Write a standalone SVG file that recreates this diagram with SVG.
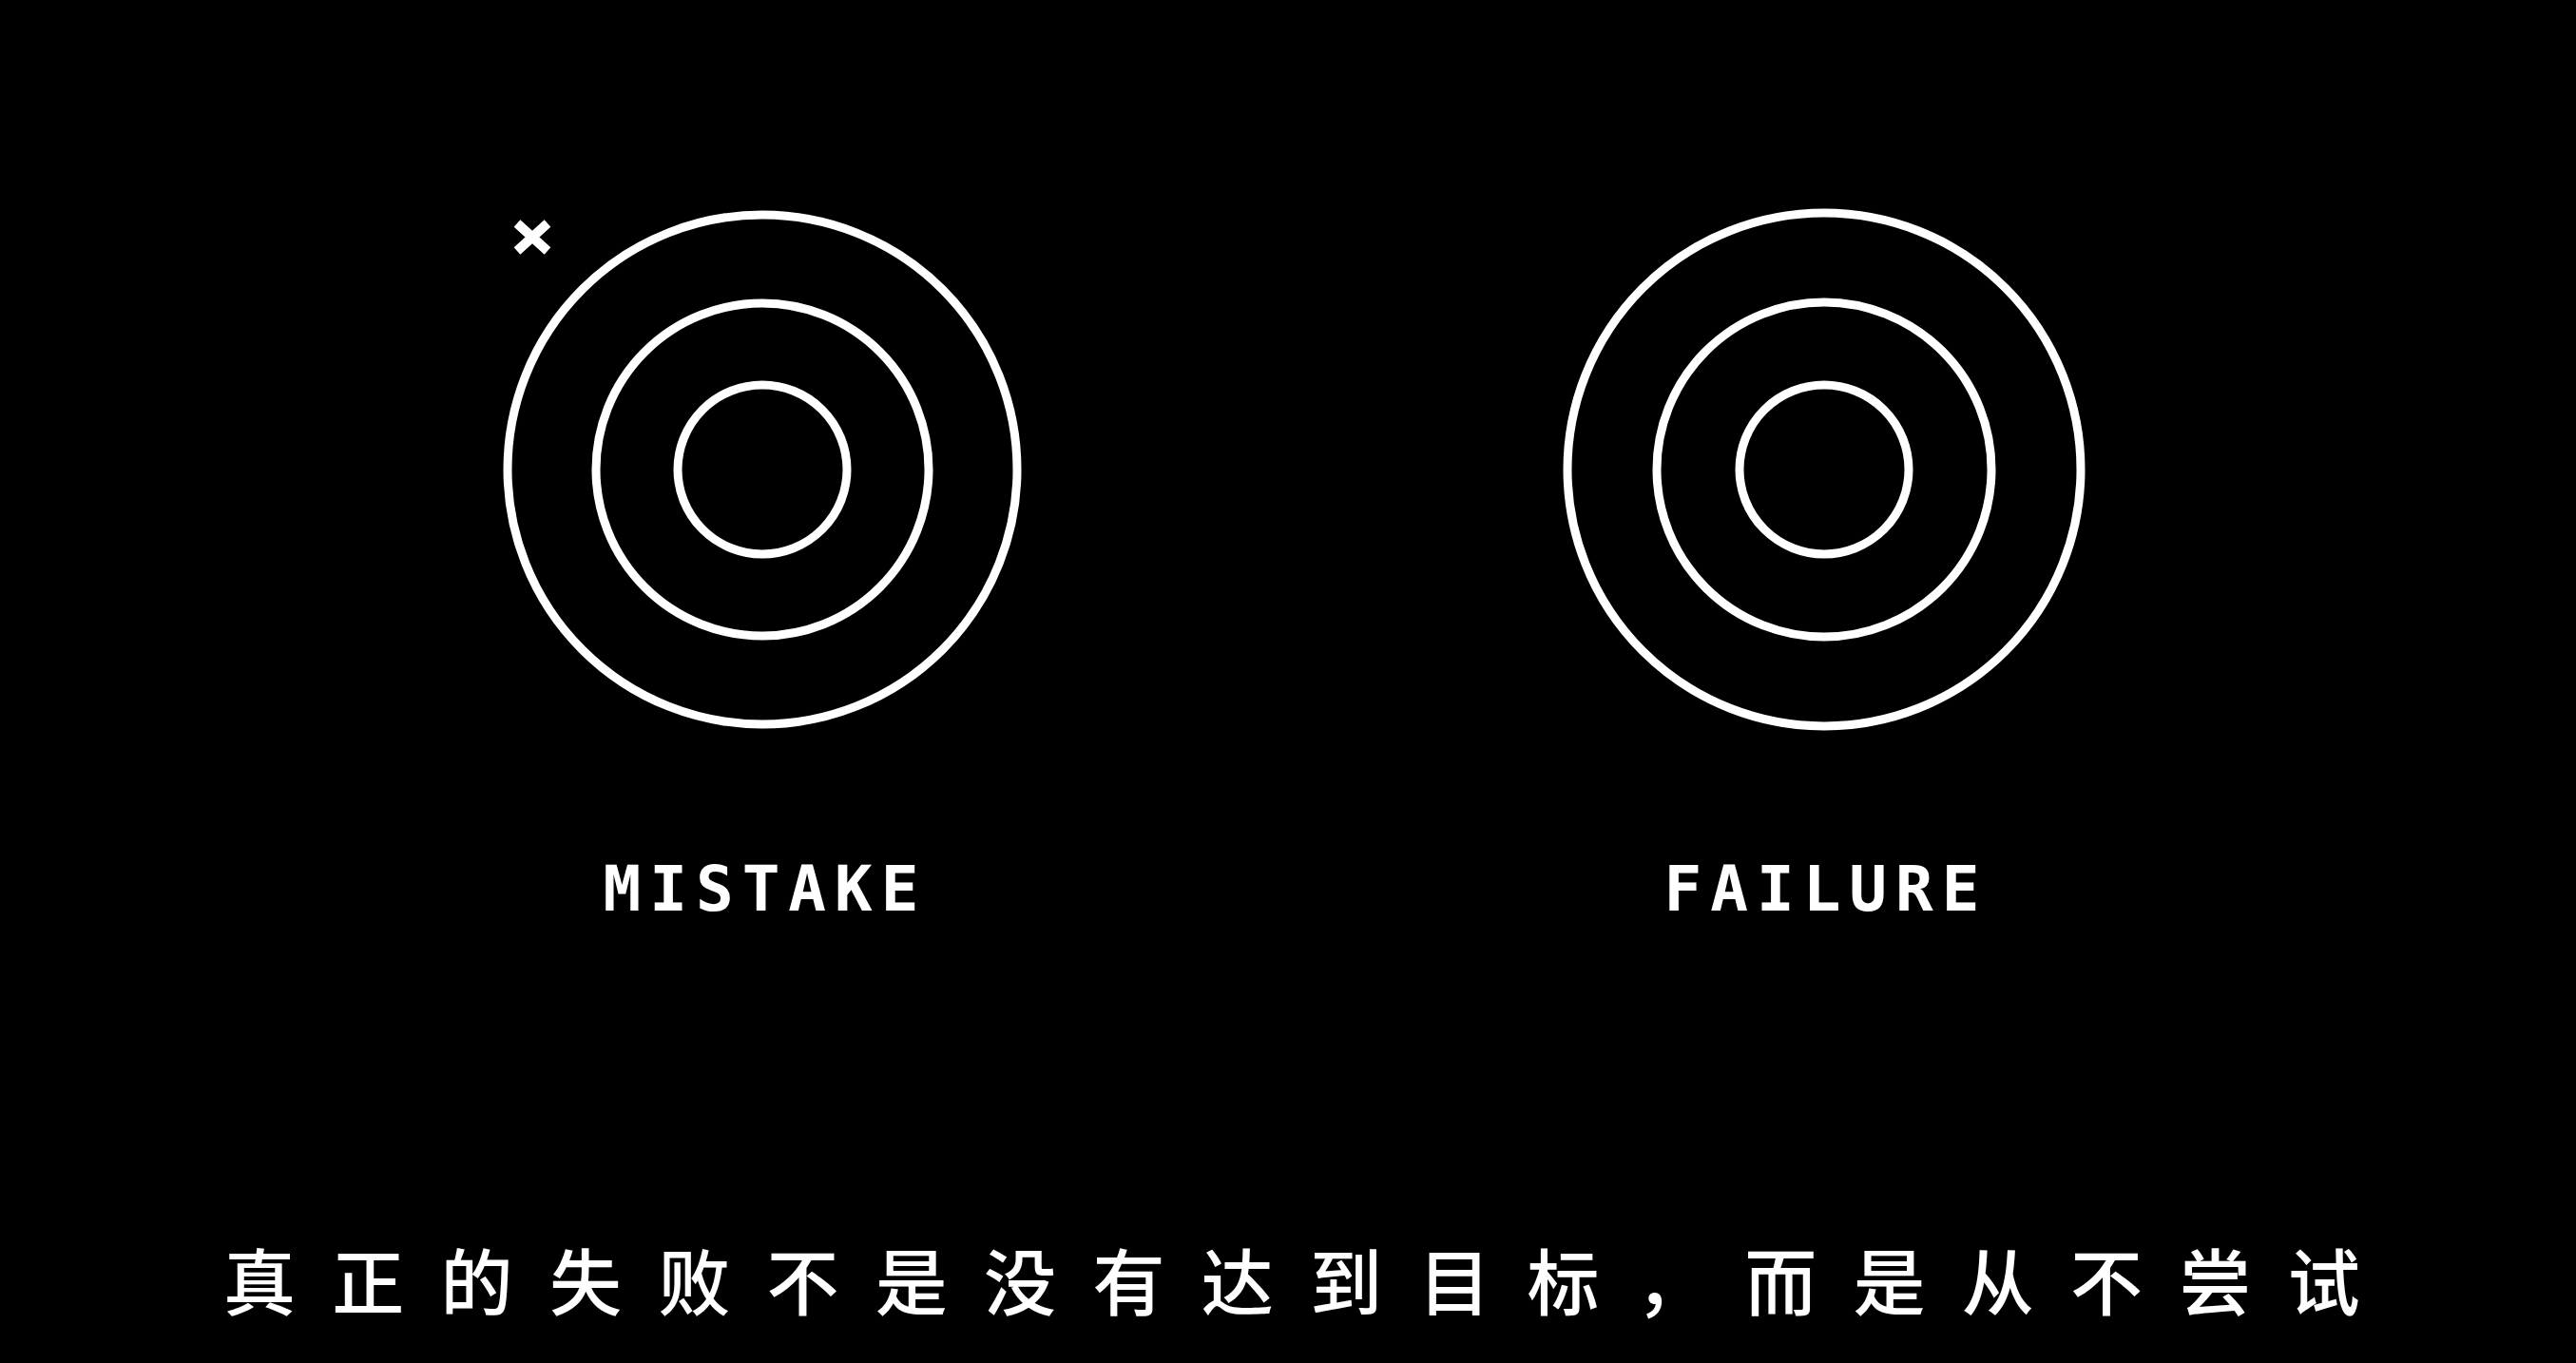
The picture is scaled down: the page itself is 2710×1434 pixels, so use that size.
<svg xmlns="http://www.w3.org/2000/svg" width="2710" height="1434" viewBox="0 0 2710 1434">
<style>
.ring{fill:none;stroke:#ffffff;stroke-width:9}
.label{font-family:"DejaVu Sans Mono","Liberation Mono",monospace;font-size:66px;font-weight:bold;fill:#ffffff;letter-spacing:9px;text-anchor:middle}
.caption{font-family:"Noto Sans CJK SC","Noto Sans CJK TC",sans-serif;font-size:76px;font-weight:500;fill:#ffffff;letter-spacing:38.3px}
</style>
<rect x="0" y="0" width="2710" height="1434" fill="#000000"/>
<g id="mistake">
<circle class="ring" cx="802" cy="494" r="268"/>
<circle class="ring" cx="802" cy="494" r="175"/>
<circle class="ring" cx="802" cy="494" r="89"/>
<path d="M544 235 L576 264 M576 235 L544 264" stroke="#ffffff" stroke-width="10" fill="none"/>
<text class="label" x="805" y="958">MISTAKE</text>
</g>
<g id="failure">
<circle class="ring" cx="1919" cy="494" r="270"/>
<circle class="ring" cx="1919" cy="494" r="176"/>
<circle class="ring" cx="1919" cy="494" r="89"/>
<text class="label" x="1921" y="958">FAILURE</text>
</g>
<g id="connectors"/>
<text class="caption" x="235" y="1378">真正的失败不是没有达到目标，而是从不尝试</text>
</svg>
